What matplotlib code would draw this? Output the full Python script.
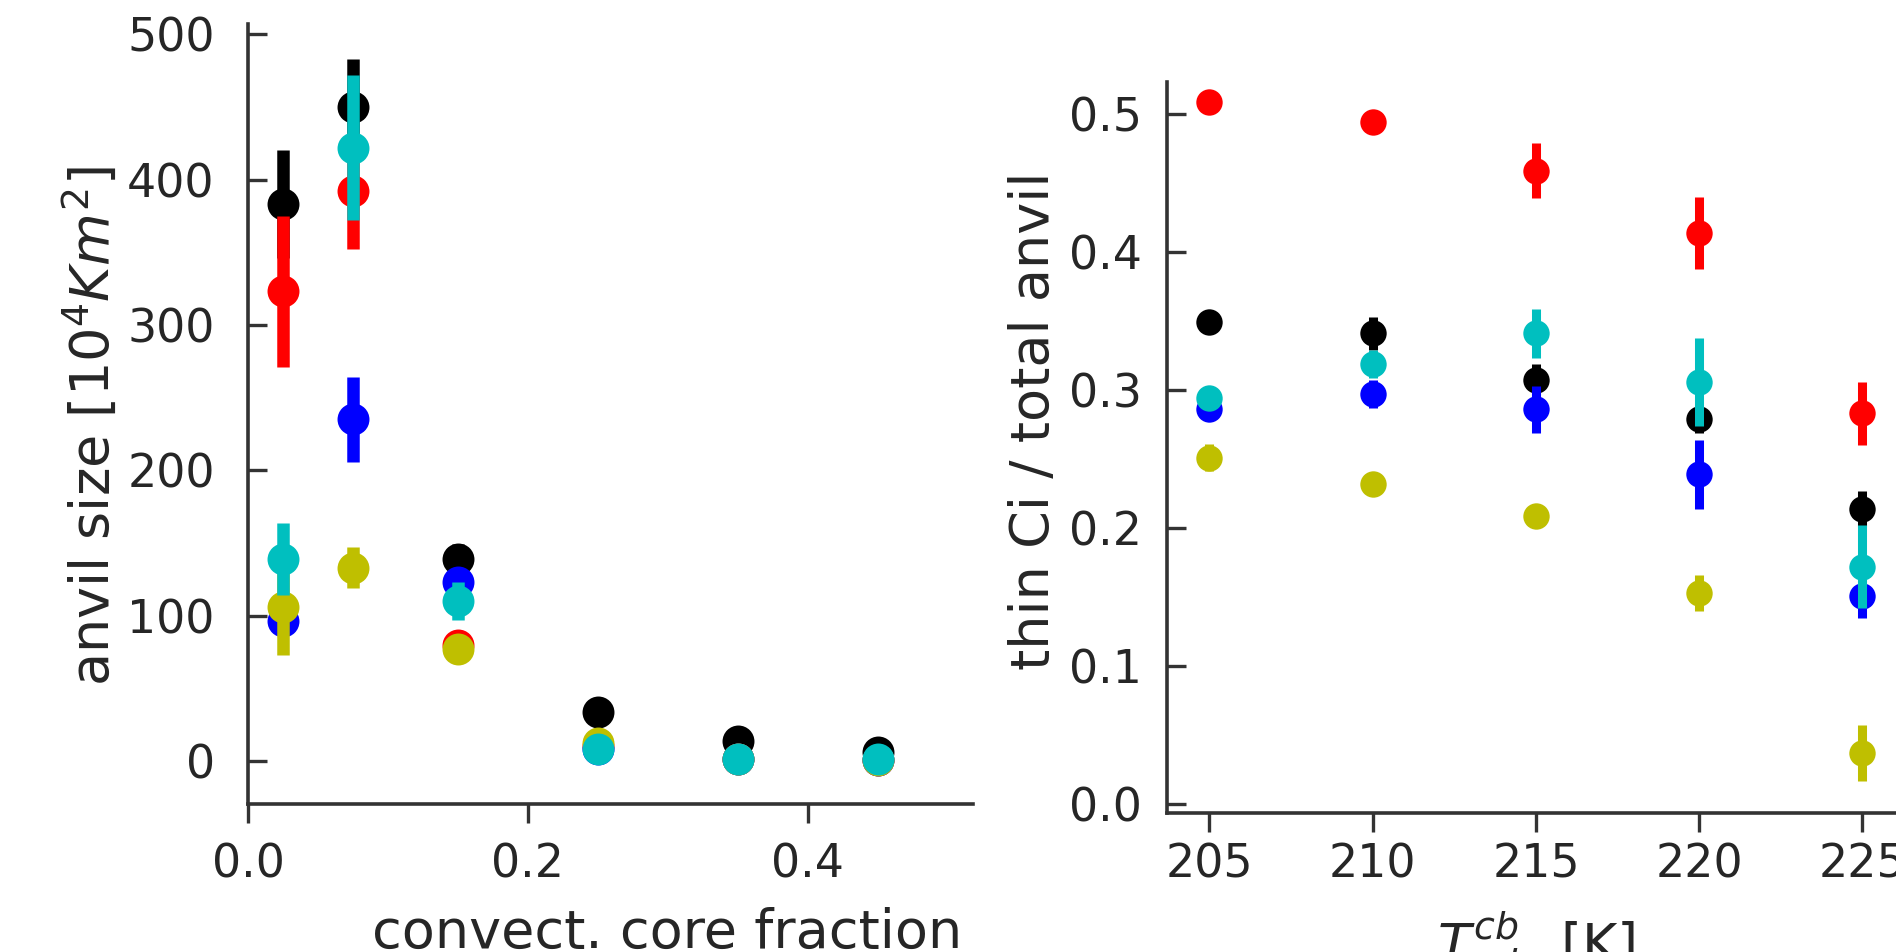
import matplotlib
matplotlib.use('Agg')
import matplotlib.pyplot as plt

# left panel: anvil size vs convective core fraction
core_frac = [0.025, 0.075, 0.15, 0.25, 0.35, 0.45]
size_k = [383, 450, 139, 34, 14, 6]
size_k_err = [37, 33, 10, 3, 2, 1]
size_r = [323, 392, 80, 10, 1, 0.5]
size_r_err = [52, 40, 5, 2, 1, 0.5]
size_b = [96, 235, 123, 8, 1, 0.5]
size_b_err = [5, 29, 10, 2, 1, 0.5]
size_y = [106, 133, 77, 12, 1, 0.5]
size_y_err = [33, 14, 3, 2, 1, 0.5]
size_c = [139, 422, 110, 8, 1, 1]
size_c_err = [25, 50, 13, 2, 1, 1]

# right panel: thin cirrus fraction vs minimum cloud-base temperature
t_min = [205, 210, 215, 220, 225]
frac_k = [0.349, 0.341, 0.307, 0.279, 0.214]
frac_k_err = [0.005, 0.012, 0.012, 0.010, 0.013]
frac_r = [0.509, 0.494, 0.459, 0.414, 0.283]
frac_r_err = [0.008, 0.007, 0.020, 0.026, 0.023]
frac_b = [0.286, 0.297, 0.286, 0.239, 0.151]
frac_b_err = [0.005, 0.010, 0.017, 0.025, 0.016]
frac_y = [0.251, 0.232, 0.209, 0.153, 0.037]
frac_y_err = [0.010, 0.005, 0.005, 0.013, 0.020]
frac_c = [0.294, 0.319, 0.341, 0.306, 0.172]
frac_c_err = [0.005, 0.010, 0.018, 0.032, 0.030]

colors = ['k', 'r', 'b', 'y', 'c']
spine_col = '0.2'
tick_fs = 33
label_fs = 39

fig = plt.figure(figsize=(18.96, 9.52), dpi=100)
ax1 = fig.add_axes([0.1308, 0.1555, 0.3824, 0.8193])
ax2 = fig.add_axes([0.6155, 0.146, 0.3892, 0.7679])


def draw(ax, x, vals, errs, ms, elw):
    for i, (v, e, col) in enumerate(zip(vals, errs, colors)):
        ax.errorbar(x, v, yerr=e, fmt='o', color=col, ms=ms, mew=0,
                    elinewidth=elw, capsize=0, zorder=2 + i)


def style(ax, ypad, xpad):
    for side in ['top', 'right']:
        ax.spines[side].set_visible(False)
    for side in ['left', 'bottom']:
        ax.spines[side].set_color(spine_col)
        ax.spines[side].set_linewidth(2.6)
    ax.tick_params(axis='y', direction='in', length=14, width=2.4,
                   color=spine_col, labelcolor='0.15', labelsize=tick_fs, pad=ypad)
    ax.tick_params(axis='x', direction='out', length=14, width=2.4,
                   color=spine_col, labelcolor='0.15', labelsize=tick_fs, pad=xpad)


draw(ax1, core_frac,
     [size_k, size_r, size_b, size_y, size_c],
     [size_k_err, size_r_err, size_b_err, size_y_err, size_c_err], 23, 9)
ax1.set_xlim(0, 0.518)
ax1.set_ylim(-29.6, 507)
ax1.set_xticks([0.0, 0.2, 0.4])
ax1.set_yticks([0, 100, 200, 300, 400, 500])
style(ax1, 24, 14)
ax1.set_xlabel('convect. core fraction', fontsize=label_fs, color='0.15')
ax1.set_ylabel(r'anvil size [$10^4 Km^2$]', fontsize=label_fs, color='0.15')
ax1.xaxis.set_label_coords(0.578, -0.185)
ax1.xaxis.label.set_va('baseline')
ax1.yaxis.set_label_coords(-0.217, 0.485)
ax1.yaxis.label.set_va('center')

draw(ax2, t_min,
     [frac_k, frac_r, frac_b, frac_y, frac_c],
     [frac_k_err, frac_r_err, frac_b_err, frac_y_err, frac_c_err], 19, 6.5)
ax2.set_xlim(203.7, 226.3)
ax2.set_ylim(-0.0065, 0.5232)
ax2.set_xticks(t_min)
ax2.set_yticks([0.0, 0.1, 0.2, 0.3, 0.4, 0.5])
style(ax2, 18, 7)
ax2.set_xlabel(r'$T_{min}^{cb}$ [K]', fontsize=label_fs, color='0.15')
ax2.set_ylabel('thin Ci / total anvil', fontsize=label_fs, color='0.15')
ax2.xaxis.set_label_coords(0.5, -0.2025)
ax2.xaxis.label.set_va('baseline')
ax2.yaxis.set_label_coords(-0.180, 0.536)
ax2.yaxis.label.set_va('center')

fig.savefig('out.png', dpi=100)
